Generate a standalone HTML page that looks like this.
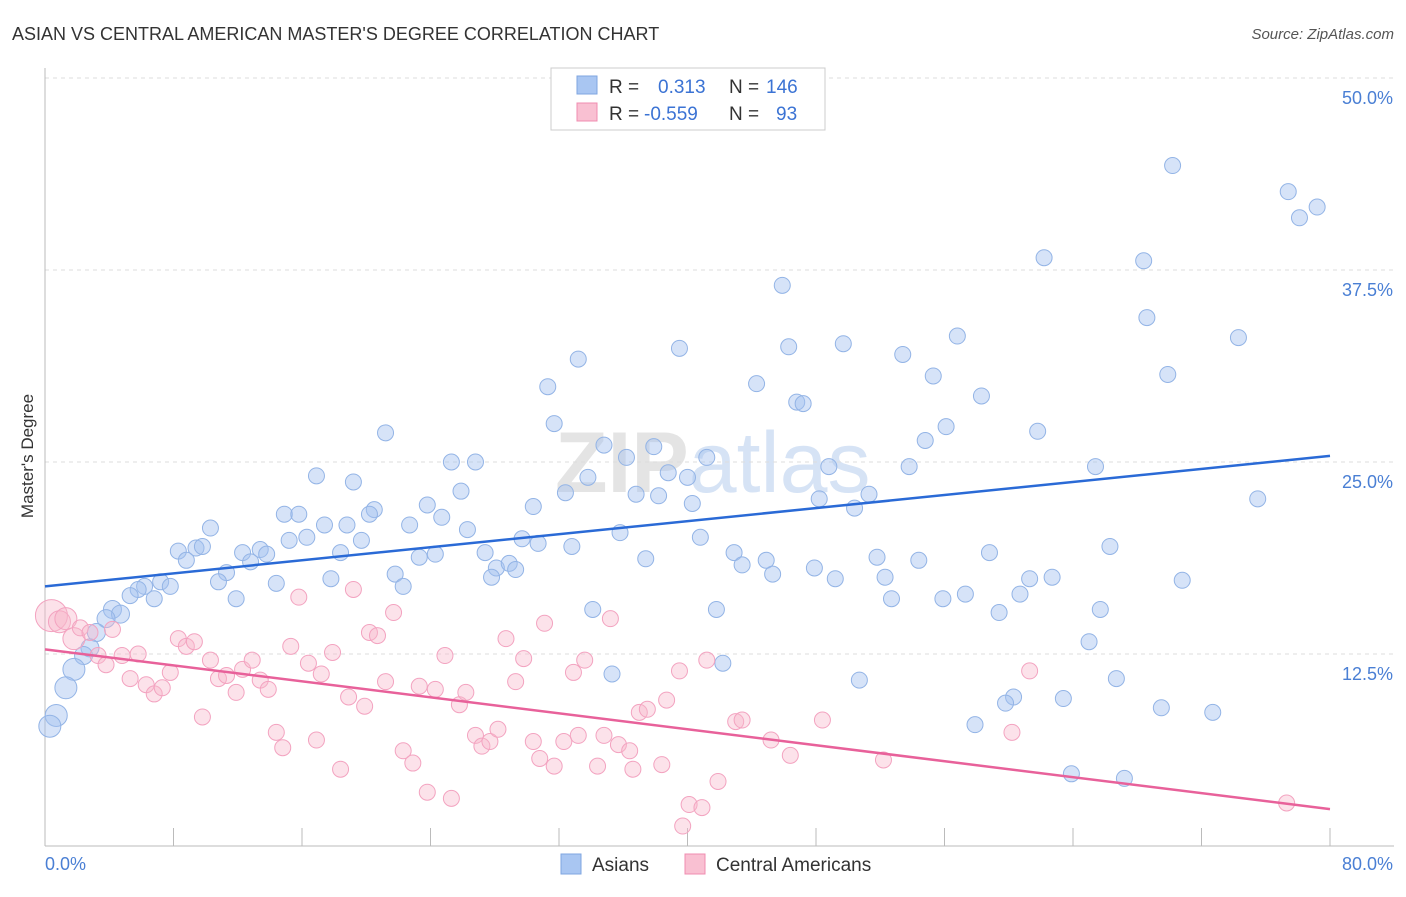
<!DOCTYPE html>
<html><head><meta charset="utf-8">
<style>
body{margin:0;background:#fff;font-family:"Liberation Sans",sans-serif;}
svg text{font-family:"Liberation Sans",sans-serif;}
</style></head>
<body>
<svg id="chart" width="1406" height="892" xmlns="http://www.w3.org/2000/svg">
<text x="12" y="40" font-size="18" fill="#333">ASIAN VS CENTRAL AMERICAN MASTER'S DEGREE CORRELATION CHART</text>
<text x="1394" y="39" font-size="15" fill="#555" font-style="italic" text-anchor="end">Source: ZipAtlas.com</text>
<text x="555" y="492" font-size="86" font-weight="bold" fill="#e4e4e4">ZIP<tspan fill="#d6e3f5" font-weight="normal">atlas</tspan></text>
<text transform="translate(33,456) rotate(-90)" font-size="17" fill="#333" text-anchor="middle">Master's Degree</text>
<g id="grid"></g>
<g id="axes"></g>
<g id="pts"></g>
<g id="trend"></g>
<g>
<rect x="551" y="68" width="274" height="62" fill="#fff" stroke="#ccc"/>
<rect x="577" y="76" width="20" height="18" fill="#a9c6f2" stroke="#7fa6e0"/>
<rect x="577" y="103" width="20" height="18" fill="#f9c0d2" stroke="#f08cb0"/>
<text x="609" y="93" font-size="19" fill="#333">R = <tspan x="658" fill="#3b73d4">0.313</tspan><tspan x="729" fill="#333">N = </tspan><tspan x="766" fill="#3b73d4">146</tspan></text>
<text x="609" y="120" font-size="19" fill="#333">R = <tspan x="644" fill="#3b73d4">-0.559</tspan><tspan x="729" fill="#333">N = </tspan><tspan x="776" fill="#3b73d4">93</tspan></text>
</g>
<g>
<rect x="561" y="854" width="20" height="20" fill="#a9c6f2" stroke="#7fa6e0"/>
<text x="592" y="871" font-size="19" fill="#333">Asians</text>
<rect x="685" y="854" width="20" height="20" fill="#f9c0d2" stroke="#f08cb0"/>
<text x="716" y="871" font-size="19" fill="#333">Central Americans</text>
</g>
</svg>
<script>
const yTicks=[12.5,25,37.5,50];
const yTickLabels=["12.5%","25.0%","37.5%","50.0%"];
const xTicks=[0,8,16,24,32,40,48,56,64,72,80];
const xEndLabels=["0.0%","80.0%"];
const asians=[[70.2,44.3],[77.4,42.6],[78.1,40.9],[79.2,41.6],[62.2,38.3],[68.4,38.1],[45.9,36.5],[68.6,34.4],[33.2,31.7],[39.5,32.4],[46.3,32.5],[49.7,32.7],[53.4,32.0],[56.8,33.2],[74.3,33.1],[69.9,30.7],[31.3,29.9],[44.3,30.1],[55.3,30.6],[58.3,29.3],[46.8,28.9],[47.2,28.8],[31.7,27.5],[21.2,26.9],[56.1,27.3],[54.8,26.4],[61.8,27.0],[34.8,26.1],[37.9,26.0],[25.3,25.0],[26.8,25.0],[36.2,25.3],[41.2,25.3],[38.8,24.3],[40.0,24.0],[48.8,24.7],[53.8,24.7],[65.4,24.7],[16.9,24.1],[19.2,23.7],[33.8,24.0],[25.9,23.1],[32.4,23.0],[36.8,22.9],[38.2,22.8],[51.3,22.9],[40.3,22.3],[48.2,22.6],[50.4,22.0],[75.5,22.6],[23.8,22.2],[30.4,22.1],[20.5,21.9],[14.9,21.6],[15.8,21.6],[20.2,21.6],[24.7,21.4],[10.3,20.7],[17.4,20.9],[18.8,20.9],[22.7,20.9],[26.3,20.6],[35.8,20.4],[15.2,19.9],[16.3,20.1],[19.7,19.9],[29.7,20.0],[30.7,19.7],[40.8,20.1],[8.3,19.2],[9.4,19.4],[9.8,19.5],[12.3,19.1],[13.4,19.3],[13.8,19.0],[18.4,19.1],[23.3,18.8],[24.3,19.0],[27.4,19.1],[32.8,19.5],[42.9,19.1],[58.8,19.1],[66.3,19.5],[8.8,18.6],[12.8,18.5],[37.4,18.7],[44.9,18.6],[51.8,18.8],[54.4,18.6],[11.3,17.8],[28.1,18.1],[28.9,18.4],[29.3,18.0],[43.4,18.3],[21.8,17.7],[27.8,17.5],[45.3,17.7],[47.9,18.1],[49.2,17.4],[52.3,17.5],[61.3,17.4],[62.7,17.5],[70.8,17.3],[10.8,17.2],[14.4,17.1],[17.8,17.4],[7.2,17.2],[6.2,16.9],[5.8,16.7],[7.8,16.9],[22.3,16.9],[5.3,16.3],[6.8,16.1],[11.9,16.1],[52.7,16.1],[55.9,16.1],[57.3,16.4],[60.7,16.4],[4.2,15.4],[4.7,15.1],[34.1,15.4],[41.8,15.4],[59.4,15.2],[65.7,15.4],[3.8,14.8],[3.2,13.9],[65.0,13.3],[2.8,12.9],[2.4,12.4],[42.2,11.9],[1.8,11.5],[35.3,11.2],[50.7,10.8],[66.7,10.9],[1.3,10.3],[60.3,9.7],[63.4,9.6],[59.8,9.3],[69.5,9.0],[72.7,8.7],[0.7,8.5],[57.9,7.9],[0.3,7.8],[63.9,4.7],[67.2,4.4]];
const centralAmericans=[[0.4,15.0],[0.9,14.6],[1.3,14.8],[1.8,13.5],[2.2,14.2],[2.8,13.9],[3.3,12.4],[3.8,11.8],[4.2,14.1],[4.8,12.4],[5.3,10.9],[5.8,12.5],[6.3,10.5],[6.8,9.9],[7.3,10.3],[7.8,11.3],[8.3,13.5],[8.8,13.0],[9.3,13.3],[9.8,8.4],[10.3,12.1],[10.8,10.9],[11.3,11.1],[11.9,10.0],[12.3,11.5],[12.9,12.1],[13.4,10.8],[13.9,10.2],[14.4,7.4],[14.8,6.4],[15.3,13.0],[15.8,16.2],[16.4,11.9],[16.9,6.9],[17.2,11.2],[17.9,12.6],[18.4,5.0],[18.9,9.7],[19.2,16.7],[19.9,9.1],[20.2,13.9],[20.7,13.7],[21.2,10.7],[21.7,15.2],[22.3,6.2],[22.9,5.4],[23.3,10.4],[23.8,3.5],[24.3,10.2],[24.9,12.4],[25.3,3.1],[25.8,9.2],[26.2,10.0],[26.8,7.2],[27.2,6.5],[27.7,6.8],[28.2,7.6],[28.7,13.5],[29.3,10.7],[29.8,12.2],[30.4,6.8],[30.8,5.7],[31.1,14.5],[31.7,5.2],[32.3,6.8],[32.9,11.3],[33.2,7.2],[33.6,12.1],[34.4,5.2],[34.8,7.2],[35.2,14.8],[35.7,6.6],[36.4,6.2],[36.6,5.0],[37.0,8.7],[37.5,8.9],[38.4,5.3],[38.7,9.5],[39.5,11.4],[39.7,1.3],[40.1,2.7],[40.9,2.5],[41.2,12.1],[41.9,4.2],[43.0,8.1],[43.4,8.2],[45.2,6.9],[46.4,5.9],[48.4,8.2],[52.2,5.6],[60.2,7.4],[61.3,11.4],[77.3,2.8]];
const asianTrend=[[0,16.9],[80,25.4]];
const centralTrend=[[0,12.8],[80,2.4]];

const NS="http://www.w3.org/2000/svg";
const X=v=>45+v/80*1285;
const Y=v=>846-v/12.5*192;
function mk(tag,parent,attrs){const e=document.createElementNS(NS,tag);for(const k in attrs)e.setAttribute(k,attrs[k]);parent.appendChild(e);return e;}
const grid=document.getElementById('grid'),axes=document.getElementById('axes'),pts=document.getElementById('pts'),trend=document.getElementById('trend');
yTicks.forEach((t,i)=>{
  const l=mk('line',grid,{x1:45,x2:1394,y1:Y(t),y2:Y(t),stroke:'#ddd','stroke-dasharray':'4,4'});
  
  
  const tx=mk('text',grid,{x:1393,y:Y(t)+26,'font-size':18,fill:'#4a7fd4','text-anchor':'end'});
  tx.textContent=yTickLabels[i];
  
  
});
const ya=mk('line',axes,{x1:45,x2:45,y1:68,y2:846,stroke:'#bbb'});


const xa=mk('line',axes,{x1:45,x2:1394,y1:846,y2:846,stroke:'#bbb'});


xTicks.forEach(t=>{
  const l=mk('line',axes,{x1:X(t),x2:X(t),y1:828,y2:846,stroke:'#bbb'});
  
  
});
[[0,'start',45],[80,'end',1393]].forEach((d,i)=>{
  const tx=mk('text',axes,{x:d[2],y:870,'font-size':18,fill:'#4a7fd4','text-anchor':d[1]});
  tx.textContent=xEndLabels[i];
  
  
});
asians.forEach(p=>{
  const r=p[0]<2?11:(p[0]<5?9:8);
  const c=mk('circle',pts,{cx:X(p[0]),cy:Y(p[1]),r:r,fill:'rgba(164,194,240,0.45)',stroke:'#93b4e6','stroke-width':1});
  
  
});
centralAmericans.forEach((p,i)=>{
  const r=i===0?16:(p[0]<2?11:8);
  const c=mk('circle',pts,{cx:X(p[0]),cy:Y(p[1]),r:r,fill:'rgba(248,182,202,0.4)',stroke:'#f3a3c0','stroke-width':1});
  
  
});
const t1=mk('line',trend,{x1:X(asianTrend[0][0]),y1:Y(asianTrend[0][1]),x2:X(asianTrend[1][0]),y2:Y(asianTrend[1][1]),stroke:'#2a6ad6','stroke-width':2.5});


const t2=mk('line',trend,{x1:X(centralTrend[0][0]),y1:Y(centralTrend[0][1]),x2:X(centralTrend[1][0]),y2:Y(centralTrend[1][1]),stroke:'#e8619a','stroke-width':2.5});


</script>
</body></html>
